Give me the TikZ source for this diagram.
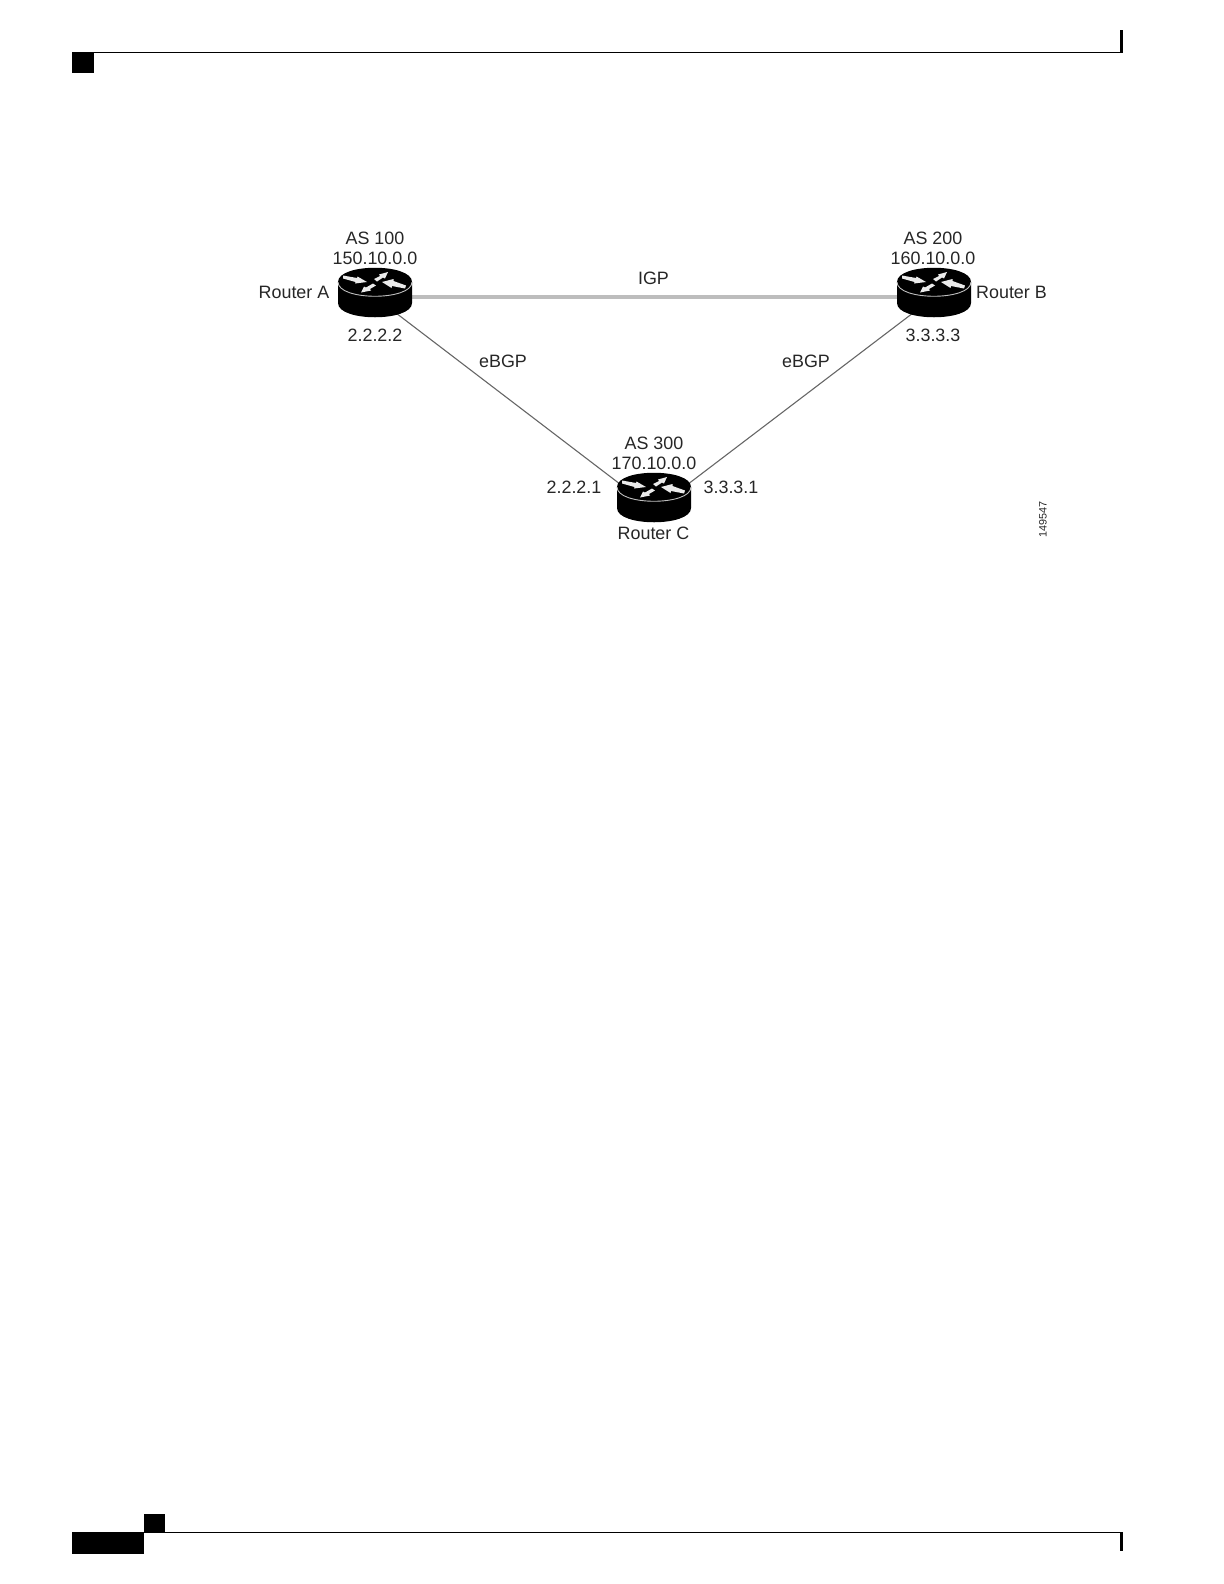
\documentclass[tikz,border=0pt]{standalone}
\usepackage{fontspec}
\setmainfont{Liberation Sans}
\definecolor{igpgray}{gray}{0.74}
\tikzset{
  x=0.5bp,y=-0.5bp,
  lbl/.style={inner sep=0pt,outer sep=0pt,font=\fontsize{8.95bp}{10bp}\selectfont,text=black!85},
  igpline/.style={line width=1.7bp,color=igpgray},
  ebgpline/.style={line width=0.55bp,color=black!60},
  barline/.style={line width=0.7bp,color=black},
  router/.pic={
    \fill[black] (-37,0) .. controls (-37,-19) and (37,-19) .. (37,0) -- (37,21)
       .. controls (37,40) and (-37,40) .. (-37,21) -- cycle;
    \draw[black!25,line width=0.45bp] (-37,0) .. controls (-37,19) and (37,19) .. (37,0);
    \fill[white!92!black] (-32,-6.5) -- (-18,-4) -- (-17.5,-5.5) -- (-8,0) -- (-20,1.5) -- (-19.5,0) -- (-32,-3.5) -- cycle;
    \fill[white!92!black] (30,6.5) -- (17,4) -- (16.5,6) -- (7,0) -- (18.5,-3) -- (18.5,-1) -- (31,3.5) -- cycle;
    \fill[white!92!black] (-1,-3) -- (5,-6) -- (4,-7.5) -- (13,-10) -- (10,-3.5) -- (8,-4.5) -- (2,-0.5) -- cycle;
    \fill[white!92!black] (1,3.5) -- (-5,7) -- (-4,8.5) -- (-14,10.5) -- (-11,4.5) -- (-9,5.5) -- (-2,1.5) -- cycle;
  }
}
\begin{document}
\begin{tikzpicture}
\useasboundingbox (0,0) rectangle (1224,1584);
% page furniture
\fill[black] (72,52) rectangle (94,73);
\coordinate (topL) at (94,52.5);
\coordinate (topR) at (1122,52.5);
\draw[barline] (topL) -- (topR);
\fill[black] (1120,30) rectangle (1123,53);
\fill[black] (72,1532) rectangle (144,1554);
\fill[black] (144,1514) rectangle (165,1532);
\coordinate (botL) at (144,1532.5);
\coordinate (botR) at (1122,1532.5);
\draw[barline] (botL) -- (botR);
\fill[black] (1120,1532) rectangle (1123,1551);
% connectors
\coordinate (hubA) at (375,297);
\coordinate (hubB) at (934,297);
\coordinate (hubC) at (654,510);
\draw[igpline] (hubA) -- (hubB);
\draw[ebgpline] (hubA) -- (hubC);
\draw[ebgpline] (hubB) -- (hubC);
% routers
\pic at (375,282) {router};
\pic at (934,282) {router};
\pic at (654,487) {router};
% labels
\node[lbl] (asA) at (375,238) {AS 100};
\node[lbl] (ipA) at (375,258) {150.10.0.0};
\node[lbl] (nameA) at (294,292.5) {Router A};
\node[lbl] (addrA) at (375,335) {2.2.2.2};
\node[lbl] (asB) at (933,238) {AS 200};
\node[lbl] (ipB) at (933,258) {160.10.0.0};
\node[lbl] (nameB) at (1011.5,292.5) {Router B};
\node[lbl] (addrB) at (933,335) {3.3.3.3};
\node[lbl] (asC) at (654,443) {AS 300};
\node[lbl] (ipC) at (654,463) {170.10.0.0};
\node[lbl] (nameC) at (653.5,533) {Router C};
\node[lbl] (addrC1) at (574,487) {2.2.2.1};
\node[lbl] (addrC2) at (731,487) {3.3.3.1};
\node[lbl] (igpL) at (653.5,278.5) {IGP};
\node[lbl] (eL) at (503,361) {eBGP};
\node[lbl] (eR) at (806,361) {eBGP};
\node[lbl,font=\fontsize{5.4bp}{6bp}\selectfont,rotate=90] (fig) at (1043,519) {149547};
\end{tikzpicture}
\end{document}
